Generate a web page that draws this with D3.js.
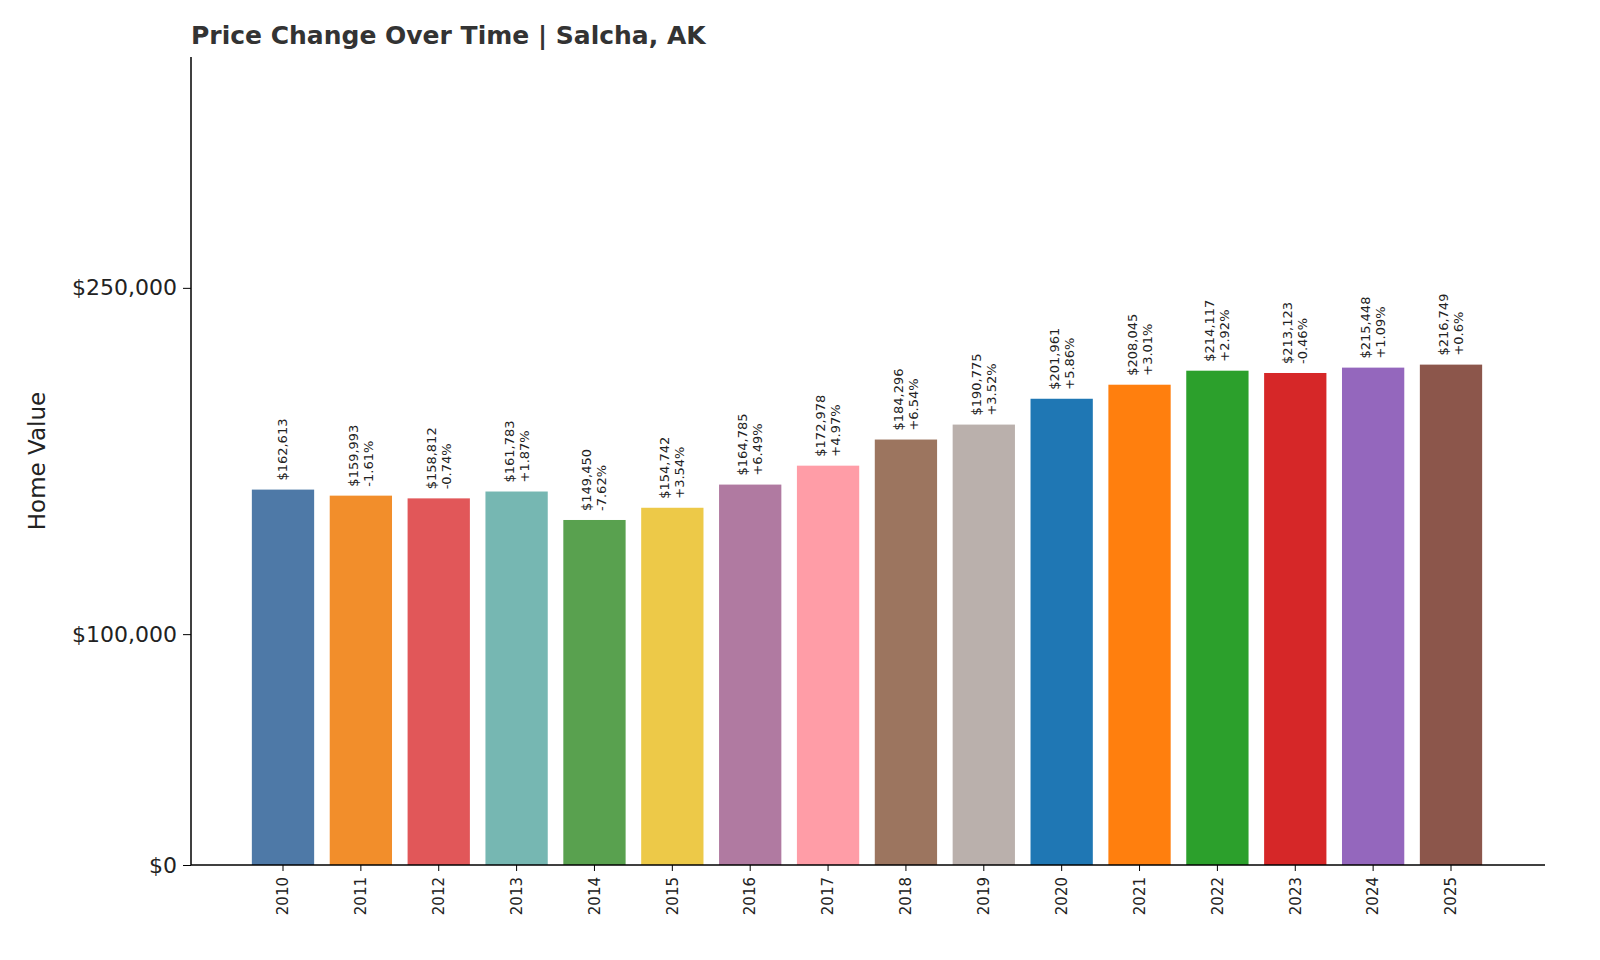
<!DOCTYPE html>
<html>
<head>
<meta charset="utf-8">
<script src="https://cdn.jsdelivr.net/npm/d3@7"></script>
<style>
  body { margin: 0; background: #fff; }
  text { font-family: "DejaVu Sans", sans-serif; fill: #222; }
</style>
</head>
<body>
<div id="container"></div>
<script>
let w = 1600;
let h = 960;

// data
let years = ["2010","2011","2012","2013","2014","2015","2016","2017","2018","2019","2020","2021","2022","2023","2024","2025"];
let values = [162613,159993,158812,161783,149450,154742,164785,172978,184296,190775,201961,208045,214117,213123,215448,216749];
let changes = [null,"-1.61%","-0.74%","+1.87%","-7.62%","+3.54%","+6.49%","+4.97%","+6.54%","+3.52%","+5.86%","+3.01%","+2.92%","-0.46%","+1.09%","+0.6%"];
let colors = ["#4e79a7","#f28e2b","#e15759","#76b7b2","#59a14f","#edc948","#b07aa1","#ff9da7","#9c755f","#bab0ac","#1f77b4","#ff7f0e","#2ca02c","#d62728","#9467bd","#8c564b"];
let yTicks = [0,100000,250000];

// plot edges (window.top is taken, so prefixed names)
let pLeft = 191, pRight = 1545, pTop = 57, pBottom = 865;

let viz = d3.select("#container")
  .append("svg")
    .attr("width", w)
    .attr("height", h)
;

let step = (1451 - 283) / 15;
let xScale = d3.scaleBand().domain(years).range([283 - step/2, 1451 + step/2]).paddingInner(0.2).paddingOuter(0.1);
let yScale = d3.scaleLinear().domain([0,350000]).range([pBottom, pTop]);

// bars
viz.selectAll(".bar").data(values).enter()
  .append("rect")
    .attr("x", (d,i) => xScale(years[i]))
    .attr("y", d => yScale(d))
    .attr("width", xScale.bandwidth())
    .attr("height", d => pBottom - yScale(d))
    .attr("fill", (d,i) => colors[i])
;

// value labels, rotated
let labels = viz.selectAll(".lab").data(values).enter()
  .append("g")
    .attr("transform", (d,i) => "translate(" + (xScale(years[i]) + xScale.bandwidth()/2) + "," + (yScale(d) - 9) + ") rotate(-90)")
;
labels.append("text")
  .attr("x", 0)
  .attr("y", (d,i) => changes[i] ? -3 : 4)
  .attr("font-size", 13)
  .text(d => "$" + d3.format(",")(d));
labels.append("text")
  .attr("x", 0)
  .attr("y", 12)
  .attr("font-size", 13)
  .text((d,i) => changes[i] || "");

// y axis
let yAxis = d3.axisLeft(yScale).tickValues(yTicks).tickSize(8).tickPadding(6)
  .tickFormat(d => "$" + d3.format(",")(d));
let yg = viz.append("g").attr("transform", "translate(" + pLeft + ",0)").call(yAxis);
yg.select(".domain").attr("d", "M0," + pTop + "V" + pBottom).attr("stroke", "#000").attr("stroke-width", 1.5);
yg.selectAll("text").attr("font-size", 22).attr("fill", "#222");

// x axis
let xAxis = d3.axisBottom(xScale).tickSize(6).tickPadding(0);
let xg = viz.append("g").attr("transform", "translate(0," + pBottom + ")").call(xAxis);
xg.select(".domain").attr("d", "M" + pLeft + ",0H" + pRight).attr("stroke", "#000").attr("stroke-width", 1.5);
xg.selectAll("text")
  .attr("font-size", 15)
  .attr("fill", "#222")
  .attr("transform", "rotate(-90)")
  .attr("text-anchor", "end")
  .attr("dy", "0.35em")
  .attr("x", -12)
  .attr("y", 0);

// title & axis label
viz.append("text")
  .attr("x", pLeft)
  .attr("y", 44)
  .attr("font-size", 25)
  .attr("font-weight", "bold")
  .style("fill", "#333")
  .text("Price Change Over Time | Salcha, AK");

viz.append("text")
  .attr("transform", "translate(45,461) rotate(-90)")
  .attr("text-anchor", "middle")
  .attr("font-size", 23)
  .text("Home Value");
</script>
</body>
</html>
